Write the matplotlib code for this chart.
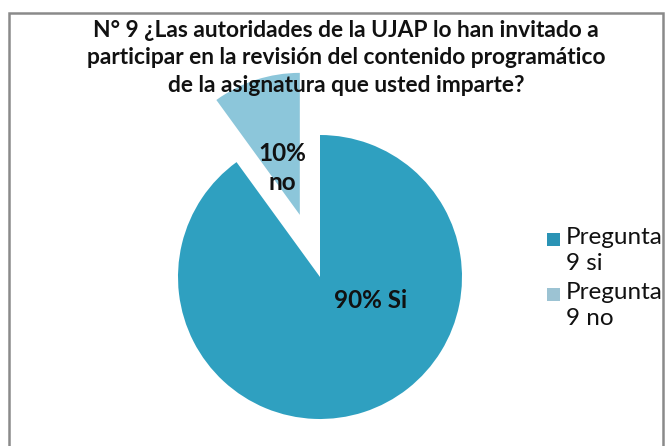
import matplotlib
matplotlib.use("Agg")
import matplotlib.pyplot as plt
from matplotlib.patches import Rectangle

title = "N° 9 ¿Las autoridades de la UJAP lo han invitado a\nparticipar en la revisión del contenido programático\nde la asignatura que usted imparte?"
categories = ["Pregunta\n9 si", "Pregunta\n9 no"]
values = [90, 10]
slice_labels = ["90% Si", "10%\nno"]
colors = ["#2FA0C0", "#8CC6DA"]
legend_colors = ["#2A93B5", "#9CC3D3"]

W, H = 665, 446
fig = plt.figure(figsize=(W / 100, H / 100), dpi=100)
fig.patch.set_facecolor("white")

# frame
fig.add_artist(Rectangle((9 / W, -0.05), (663 - 9) / W, (H - 13) / H + 0.05,
                         transform=fig.transFigure, fill=False,
                         edgecolor="#8a8a8a", linewidth=1.8))

R = 142.0
cx, cy = 320.0, 277.0
ax = fig.add_axes([0, 0, 1, 1])
wedges, _ = ax.pie(values, colors=colors, startangle=90, counterclock=False,
                   explode=[0, 0.46], radius=1.0,
                   wedgeprops=dict(linewidth=0))
ax.set_xlim(-cx / R, (W - cx) / R)
ax.set_ylim(-(H - cy) / R, cy / R)
ax.axis("off")

font = "Lato"
fig.text(346 / W, 1 - 58 / H, title, ha="center", va="center",
         fontsize=16.4, fontweight="bold", family=font, linespacing=1.4,
         color="#111111")

fig.text(371 / W, 1 - 300 / H, slice_labels[0], ha="center", va="center",
         fontsize=17.5, fontweight="bold", family=font, color="#111111")
fig.text(282 / W, 1 - 168 / H, slice_labels[1], ha="center", va="center",
         fontsize=17.5, fontweight="bold", family=font, linespacing=1.35,
         color="#111111")

# legend
for i, (lab, col) in enumerate(zip(categories, legend_colors)):
    ymid = 239 + i * 55
    fig.add_artist(Rectangle((547 / W, 1 - (ymid + 6.5) / H), 13 / W, 13 / H,
                             transform=fig.transFigure, facecolor=col,
                             edgecolor="none"))
    fig.text(566 / W, 1 - (ymid - 12) / H, lab, ha="left", va="top",
             fontsize=17.5, family=font, linespacing=1.3, color="#111111")

fig.savefig("out.png", dpi=100)
